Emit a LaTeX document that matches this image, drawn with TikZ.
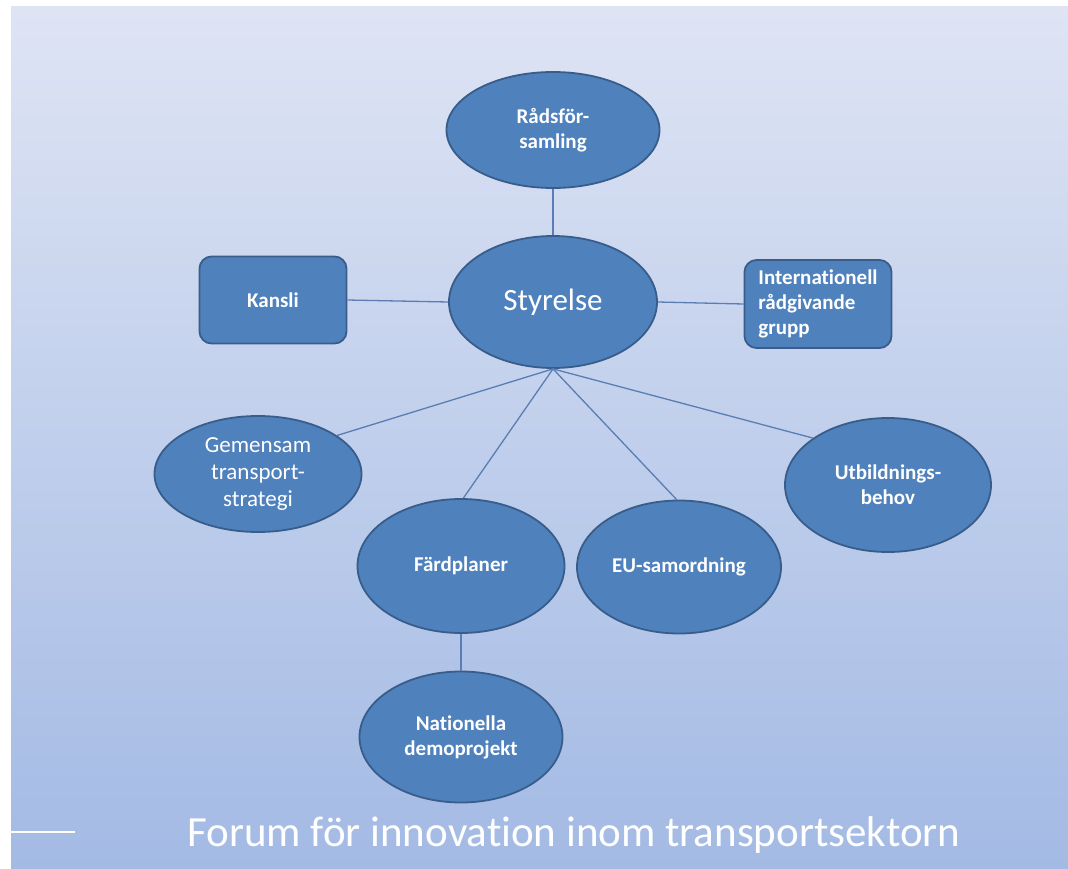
\documentclass[tikz,border=0pt]{standalone}
\usepackage{fontspec}
\setmainfont[Ligatures=NoCommon]{Carlito}
\usetikzlibrary{shapes.geometric}
\definecolor{fillc}{HTML}{4F81BD}
\definecolor{bdr}{HTML}{385D8A}
\definecolor{linec}{HTML}{5A7DB3}
\definecolor{bgtop}{HTML}{DEE4F4}
\definecolor{bgbot}{HTML}{A3BAE4}
\tikzset{
  ell/.style={ellipse, draw=bdr, fill=fillc, line width=1.8pt, inner sep=0pt, text=white, align=center},
  rbox/.style={rectangle, rounded corners=12pt, draw=bdr, fill=fillc, line width=1.8pt, inner sep=0pt, text=white},
  bfont/.style={font=\fontsize{21}{25}\selectfont\bfseries},
  conn/.style={draw=linec, line width=1.3pt}
}
\begin{document}
\begin{tikzpicture}[x=1pt,y=-1pt]
\useasboundingbox (0,0) rectangle (1068,869);
\fill[white] (0,0) rectangle (1068,869);
\shade[top color=bgtop, bottom color=bgbot] (11,7) rectangle (1068,869);
\node[ell, bfont, minimum width=213pt, minimum height=116pt] (rad) at (553,130) {Rådsför-\\samling};
\node[ell, font=\fontsize{31}{36}\selectfont, minimum width=208pt, minimum height=132pt] (sty) at (553,302) {Styrelse};
\node[rbox, bfont, minimum width=147pt, minimum height=87pt] (kan) at (273,300) {Kansli};
\node[rbox, bfont, minimum width=147pt, minimum height=88pt, align=left] (int) at (818,304) {Internationell\\rådgivande\\grupp};
\node[ell, font=\fontsize{23}{27}\selectfont, minimum width=207pt, minimum height=116pt] (gem) at (258,474) {Gemensam\\transport-\\strategi};
\node[ell, bfont, minimum width=207pt, minimum height=134pt] (fard) at (461,566) {Färdplaner};
\node[ell, bfont, minimum width=204pt, minimum height=133pt] (eu) at (679,567) {EU-samordning};
\node[ell, bfont, minimum width=206pt, minimum height=134pt] (utb) at (888,485) {Utbildnings-\\behov};
\node[ell, bfont, minimum width=203pt, minimum height=131pt] (nat) at (461,737) {Nationella\\demoprojekt};
\draw[conn] (rad.south) -- (sty.north);
\draw[conn] (kan.east) -- (sty.west);
\draw[conn] (sty.east) -- (int.west);
\draw[conn] (sty.south) -- (gem.26);
\draw[conn] (sty.south) -- (fard.88);
\draw[conn] (sty.south) -- (eu.92);
\draw[conn] (sty.south) -- (utb.148);
\draw[conn] (fard.south) -- (nat.north);
\coordinate (fl1) at (11,832);
\coordinate (fl2) at (75,832);
\draw[white, line width=2pt] (fl1) -- (fl2);
\node[text=white, font=\fontsize{43}{48}\selectfont, inner sep=0pt, anchor=base] (foot) at (574,846) {Forum för innovation inom transportsektorn};
\end{tikzpicture}
\end{document}
